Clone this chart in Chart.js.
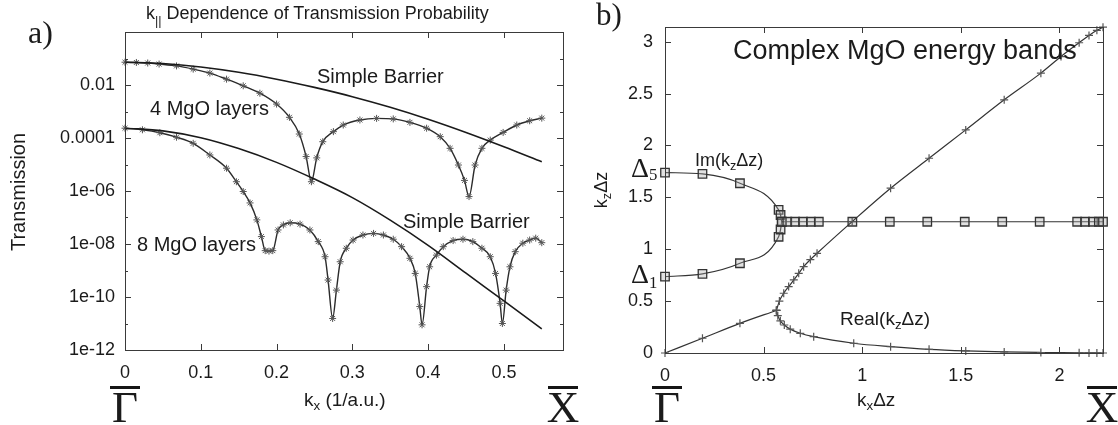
<!DOCTYPE html>
<html>
<head>
<meta charset="utf-8">
<script src="https://cdn.jsdelivr.net/npm/chart.js@4.4.1/dist/chart.umd.min.js"></script>
<style>
  html, body { margin: 0; padding: 0; background: #fff; }
  #wrap { position: relative; width: 1118px; height: 425px; overflow: hidden; }
  canvas { position: absolute; top: 0; }
  .t { position: absolute; white-space: nowrap; line-height: 1; color: #1b1b1b;
       font-family: "Liberation Sans", Arial, sans-serif; }
  .s { font-family: "Liberation Serif", "Times New Roman", serif; }
  .t sub { font-size: 0.7em; vertical-align: -0.3em; line-height: 0; }
  .ob { position: absolute; height: 3px; width: 30px; background: #151515; top: 386px; }
  .mid { transform: translateX(-50%); }
  .rot { transform: translate(-50%, -50%) rotate(-90deg); }
</style>
</head>
<body>
<div id="wrap">
  <canvas id="chartA" width="590" height="425" style="left:0"></canvas>
  <canvas id="chartB" width="528" height="425" style="left:590px"></canvas>

  <div class="t s" style="left:28px;top:16px;font-size:32px">a)</div>
  <div class="t s" style="left:596px;top:-1px;font-size:31px">b)</div>
  <div class="t" style="left:146px;top:4px;font-size:18px">k<sub style="vertical-align:-0.45em">||</sub> Dependence of Transmission Probability</div>
  <div class="t rot" style="left:18px;top:192px;font-size:20px">Transmission</div>
  <div class="t" style="left:304px;top:390px;font-size:19px">k<sub>x</sub> (1/a.u.)</div>

  <div class="t" style="left:317px;top:66px;font-size:20px">Simple Barrier</div>
  <div class="t" style="left:150px;top:98px;font-size:20px">4 MgO layers</div>
  <div class="t" style="left:403px;top:211px;font-size:20px">Simple Barrier</div>
  <div class="t" style="left:137px;top:234px;font-size:20px">8 MgO layers</div>

  <div class="ob" style="left:110px"></div>
  <div class="t s mid" style="left:125px;top:385px;font-size:45px">Γ</div>
  <div class="ob" style="left:548px"></div>
  <div class="t s mid" style="left:563px;top:385px;font-size:45px">X</div>
  <div class="ob" style="left:652px"></div>
  <div class="t s mid" style="left:667px;top:385px;font-size:45px">Γ</div>
  <div class="ob" style="left:1087px"></div>
  <div class="t s mid" style="left:1102px;top:385px;font-size:45px">X</div>

  <div class="t" style="left:733px;top:37px;font-size:27px">Complex MgO energy bands</div>
  <div class="t" style="left:695px;top:151px;font-size:18px">Im(k<sub>z</sub>Δz)</div>
  <div class="t" style="left:840px;top:309px;font-size:19px">Real(k<sub>z</sub>Δz)</div>
  <div class="t s" style="left:631px;top:154px;font-size:28px">Δ<sub style="font-size:0.6em;vertical-align:-0.2em">5</sub></div>
  <div class="t s" style="left:631px;top:260px;font-size:28px">Δ<sub style="font-size:0.6em;vertical-align:-0.3em">1</sub></div>
  <div class="t rot" style="left:601px;top:190px;font-size:18px">k<sub>z</sub>Δz</div>
  <div class="t" style="left:857px;top:390px;font-size:19px">k<sub>x</sub>Δz</div>
</div>

<script>
// ---- panel a: transmission vs k_x (log10 of T) ----
const sb4K = [0, 0.05, 0.1, 0.15, 0.2, 0.25, 0.3, 0.35, 0.4, 0.45, 0.5, 0.55];
const sb4Log = [-1.14, -1.19, -1.32, -1.52, -1.78, -2.09, -2.44, -2.84, -3.29, -3.79, -4.33, -4.90];
const sb8K = [0, 0.05, 0.1, 0.15, 0.2, 0.25, 0.3, 0.35, 0.4, 0.45, 0.5, 0.55];
const sb8Log = [-3.63, -3.73, -3.99, -4.40, -4.92, -5.55, -6.25, -7.1, -8.05, -9.1, -10.15, -11.2];

const mgo4K = [0, 0.015, 0.03, 0.045, 0.068, 0.09, 0.112, 0.134, 0.156, 0.178,
  0.2, 0.217, 0.23, 0.239, 0.246, 0.253, 0.261, 0.275, 0.288, 0.31,
  0.332, 0.354, 0.376, 0.398, 0.416, 0.429, 0.44, 0.448, 0.454, 0.462,
  0.471, 0.482, 0.499, 0.517, 0.534, 0.55];
const mgo4Log = [-1.14, -1.15, -1.17, -1.21, -1.28, -1.40, -1.55, -1.78, -2.03, -2.31,
  -2.72, -3.22, -3.85, -4.7, -5.65, -4.75, -4.14, -3.76, -3.51, -3.32,
  -3.26, -3.28, -3.41, -3.63, -3.95, -4.39, -5.02, -5.6, -6.21, -5.02,
  -4.39, -4.08, -3.79, -3.51, -3.35, -3.25];

const mgo8K = [0, 0.023, 0.046, 0.068, 0.09, 0.112, 0.134, 0.147, 0.156, 0.165,
  0.174, 0.18, 0.185, 0.19, 0.195, 0.202, 0.209, 0.218, 0.231, 0.244,
  0.255, 0.264, 0.268, 0.274, 0.279, 0.284, 0.292, 0.301, 0.314, 0.328,
  0.341, 0.354, 0.365, 0.376, 0.383, 0.389, 0.392, 0.398, 0.402, 0.411,
  0.42, 0.433, 0.446, 0.459, 0.471, 0.482, 0.489, 0.495, 0.498, 0.503,
  0.508, 0.515, 0.525, 0.534, 0.542, 0.55];
const mgo8Log = [-3.63, -3.69, -3.80, -3.97, -4.20, -4.64, -5.14, -5.65, -6.02, -6.45,
  -7.09, -7.72, -8.25, -8.27, -8.25, -7.47, -7.28, -7.2, -7.25, -7.47,
  -7.91, -8.48, -9.36, -10.81, -9.74, -8.67, -8.16, -7.85, -7.66, -7.6,
  -7.66, -7.82, -8.1, -8.54, -9.11, -10.36, -11.05, -9.61, -8.86, -8.42,
  -8.1, -7.87, -7.82, -7.91, -8.16, -8.48, -9.11, -10.24, -11.0, -9.74,
  -8.86, -8.29, -7.97, -7.85, -7.78, -7.95];

const aXTicks = [0, 0.1, 0.2, 0.3, 0.4, 0.5];
const aXLabels = ['0', '0.1', '0.2', '0.3', '0.4', '0.5'];
const aYTickExp = [-12, -10, -8, -6, -4, -2];
const aYLabels = ['1e-12', '1e-10', '1e-08', '1e-06', '0.0001', '0.01'];
const aYMinorExp = [-11, -9, -7, -5, -3, -1];

// ---- panel b: complex band structure ----
const imUpperX = [0, 0.19, 0.38, 0.576, 0.586, 0.592, 0.62, 0.66, 0.7, 0.74, 0.78,
  0.95, 1.14, 1.33, 1.52, 1.71, 1.9, 2.09, 2.13, 2.17, 2.2, 2.221];
const imUpperY = [1.739, 1.726, 1.636, 1.379, 1.33, 1.265, 1.265, 1.265, 1.265, 1.265, 1.265,
  1.265, 1.265, 1.265, 1.265, 1.265, 1.265, 1.265, 1.265, 1.265, 1.265, 1.265];
const imLowerX = [0, 0.19, 0.38, 0.576, 0.586, 0.592];
const imLowerY = [0.736, 0.762, 0.865, 1.12, 1.19, 1.265];

const realLinX = [0, 0.19, 0.38, 0.565];
const realLinY = [0, 0.142, 0.286, 0.41];
const realUpperX = [0.565, 0.58, 0.602, 0.627, 0.653, 0.678, 0.703, 0.737, 0.771,
  0.949, 1.144, 1.339, 1.525, 1.72, 1.906, 2.008, 2.1, 2.15, 2.19, 2.221];
const realUpperY = [0.41, 0.5, 0.576, 0.64, 0.704, 0.768, 0.832, 0.9, 0.961,
  1.266, 1.588, 1.877, 2.15, 2.44, 2.697, 2.857, 2.99, 3.06, 3.11, 3.14];
const realLowerX = [0.565, 0.572, 0.585, 0.605, 0.635, 0.686, 0.754, 0.957, 1.144, 1.339,
  1.525, 1.72, 1.906, 2.1, 2.15, 2.19, 2.221];
const realLowerY = [0.41, 0.36, 0.31, 0.27, 0.23, 0.19, 0.157, 0.094, 0.061, 0.035,
  0.02, 0.01, 0.005, 0.002, 0.001, 0.0005, 0];

const bXTicks = [0, 0.5, 1, 1.5, 2];
const bXLabels = ['0', '0.5', '1', '1.5', '2'];
const bYTicks = [0, 0.5, 1, 1.5, 2, 2.5, 3];
const bYLabels = ['0', '0.5', '1', '1.5', '2', '2.5', '3'];

const tickFont = { family: 'Liberation Sans', size: 18 };
const ink = '#1b1b1b';

// gnuplot-like frame: box plus inward ticks on all four sides
const frame = {
  id: 'frame',
  afterDatasetsDraw(chart, args, opts) {
    const { ctx, chartArea: a } = chart;
    const xs = chart.scales.x, ys = chart.scales.y;
    ctx.save();
    ctx.strokeStyle = '#3a3a3a';
    ctx.lineWidth = 1;
    ctx.beginPath();
    const vt = (v, len) => {
      const p = Math.round(xs.getPixelForValue(v)) + 0.5;
      ctx.moveTo(p, a.bottom); ctx.lineTo(p, a.bottom - len);
      ctx.moveTo(p, a.top); ctx.lineTo(p, a.top + len);
    };
    const ht = (v, len) => {
      const p = Math.round(ys.getPixelForValue(v)) + 0.5;
      ctx.moveTo(a.left, p); ctx.lineTo(a.left + len, p);
      ctx.moveTo(a.right, p); ctx.lineTo(a.right - len, p);
    };
    xs.ticks.forEach(t => vt(t.value, 6));
    ys.ticks.forEach(t => ht(t.value, 6));
    (opts.minorY || []).forEach(v => ht(v, 3));
    ctx.stroke();
    ctx.strokeRect(Math.round(a.left) + 0.5, Math.round(a.top) + 0.5,
      Math.round(a.right - a.left), Math.round(a.bottom - a.top));
    ctx.restore();
  }
};

function pts(xs, ys, f) {
  return xs.map((x, i) => ({ x: x, y: f ? f(ys[i]) : ys[i] }));
}
const pow10 = v => Math.pow(10, v);

function axis(extra) {
  return Object.assign({
    grid: { display: false, drawTicks: false },
    border: { display: false }
  }, extra);
}

const lineBase = { showLine: true, cubicInterpolationMode: 'monotone', clip: false, fill: false };

new Chart(document.getElementById('chartA'), {
  type: 'scatter',
  data: {
    datasets: [
      Object.assign({ data: pts(sb4K, sb4Log, pow10), borderColor: '#1a1a1a', borderWidth: 1.6, pointRadius: 0 }, lineBase),
      Object.assign({ data: pts(sb8K, sb8Log, pow10), borderColor: '#1a1a1a', borderWidth: 1.6, pointRadius: 0 }, lineBase),
      Object.assign({ data: pts(mgo4K, mgo4Log, pow10), borderColor: '#2b2b2b', borderWidth: 1.4,
        pointStyle: 'star', pointRadius: 3.5, pointBorderColor: '#555', pointBorderWidth: 1 }, lineBase),
      Object.assign({ data: pts(mgo8K, mgo8Log, pow10), borderColor: '#2b2b2b', borderWidth: 1.4,
        pointStyle: 'star', pointRadius: 3.5, pointBorderColor: '#555', pointBorderWidth: 1 }, lineBase)
    ]
  },
  options: {
    responsive: false, animation: false, events: [],
    layout: { padding: { left: 0, right: 27, top: 32, bottom: 0 } },
    plugins: { legend: { display: false }, tooltip: { enabled: false },
      frame: { minorY: aYMinorExp.map(pow10) } },
    scales: {
      x: axis({
        type: 'linear', min: 0, max: 0.578,
        ticks: { font: tickFont, color: ink, padding: 12, autoSkip: false, maxRotation: 0,
          callback: (v, i) => aXLabels[i] },
        afterBuildTicks: s => { s.ticks = aXTicks.map(v => ({ value: v })); },
        afterFit: s => { s.height = 75; }
      }),
      y: axis({
        type: 'logarithmic', min: 1e-12, max: 1,
        ticks: { font: tickFont, color: ink, padding: 10, autoSkip: false,
          callback: (v, i) => aYLabels[i] },
        afterBuildTicks: s => { s.ticks = aYTickExp.map(e => ({ value: pow10(e) })); },
        afterFit: s => { s.width = 125; }
      })
    }
  },
  plugins: [frame]
});

const sq = { pointStyle: 'rect', pointRadius: 6, pointBorderColor: '#333', pointBorderWidth: 1.3,
  pointBackgroundColor: 'rgba(170,170,170,0.35)', borderColor: '#333', borderWidth: 1.2 };
const cr = { pointStyle: 'cross', pointRadius: 4, pointBorderColor: '#555', pointBorderWidth: 1.2,
  borderColor: '#333', borderWidth: 1.2 };

new Chart(document.getElementById('chartB'), {
  type: 'scatter',
  data: {
    datasets: [
      Object.assign({ data: pts(realLinX, realLinY) }, cr, lineBase),
      Object.assign({ data: pts(realUpperX, realUpperY) }, cr, lineBase),
      Object.assign({ data: pts(realLowerX, realLowerY) }, cr, lineBase),
      Object.assign({ data: pts(imUpperX, imUpperY) }, sq, lineBase),
      Object.assign({ data: pts(imLowerX, imLowerY) }, sq, lineBase)
    ]
  },
  options: {
    responsive: false, animation: false, events: [],
    layout: { padding: { left: 0, right: 15, top: 27, bottom: 0 } },
    plugins: { legend: { display: false }, tooltip: { enabled: false } },
    scales: {
      x: axis({
        type: 'linear', min: 0, max: 2.221,
        ticks: { font: tickFont, color: ink, padding: 12, autoSkip: false, maxRotation: 0,
          callback: (v, i) => bXLabels[i] },
        afterBuildTicks: s => { s.ticks = bXTicks.map(v => ({ value: v })); },
        afterFit: s => { s.height = 72; }
      }),
      y: axis({
        type: 'linear', min: 0, max: 3.1416,
        ticks: { font: tickFont, color: ink, padding: 12, autoSkip: false,
          callback: (v, i) => bYLabels[i] },
        afterBuildTicks: s => { s.ticks = bYTicks.map(v => ({ value: v })); },
        afterFit: s => { s.width = 75; }
      })
    }
  },
  plugins: [frame]
});
</script>
</body>
</html>
